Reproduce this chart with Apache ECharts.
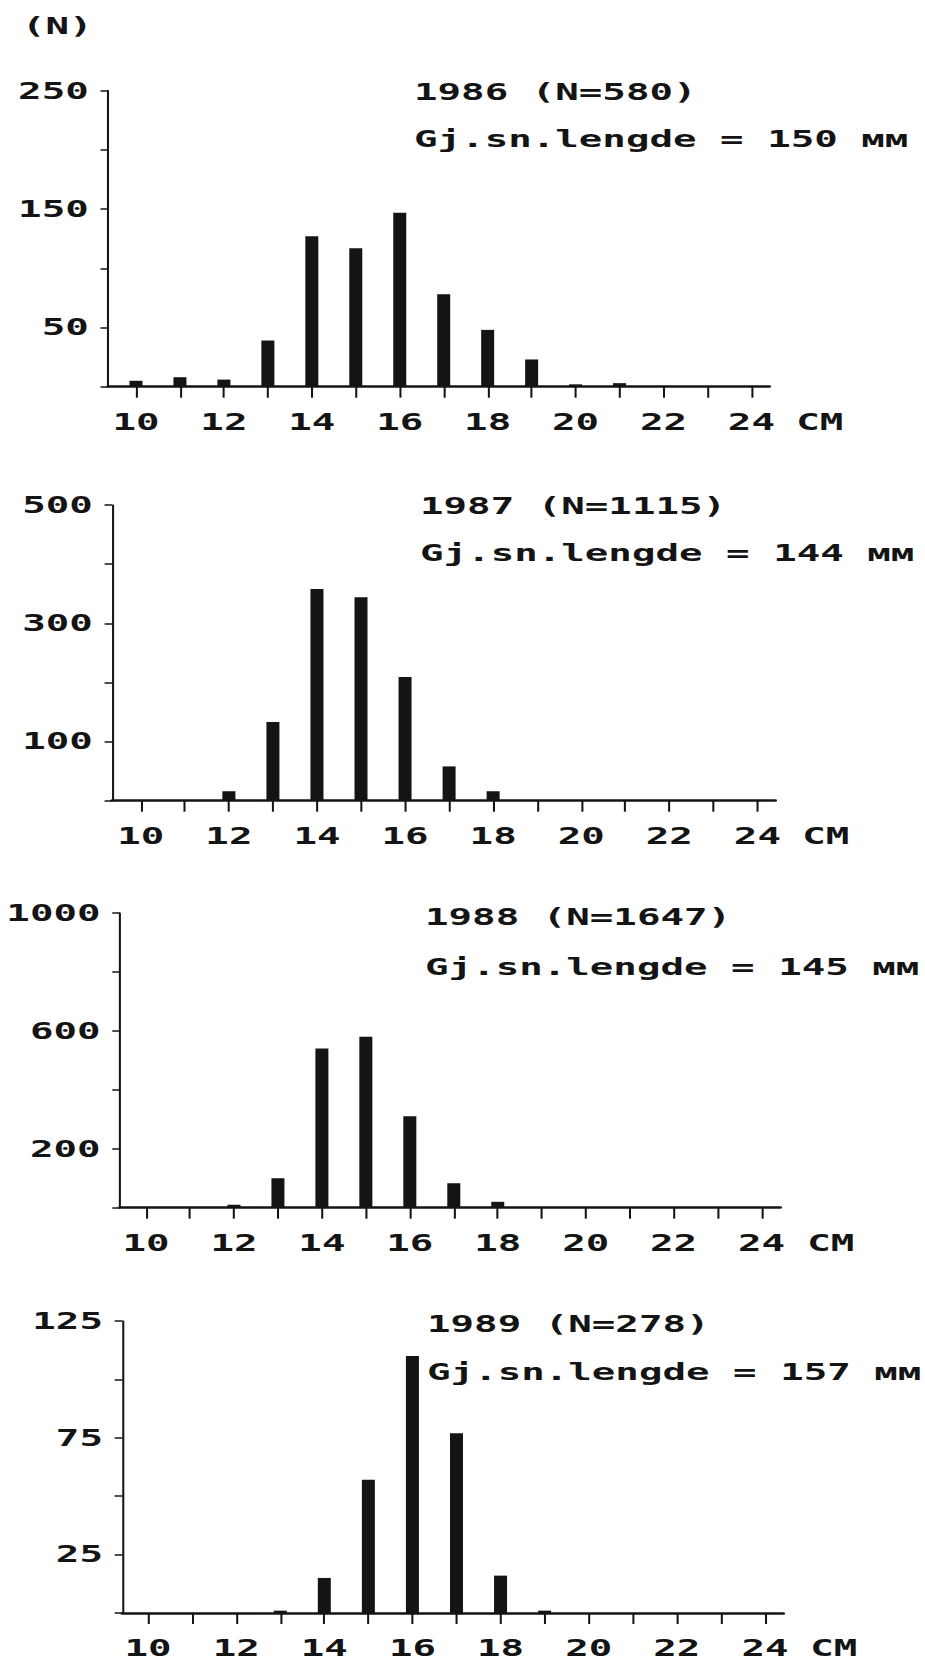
<!DOCTYPE html>
<html>
<head>
<meta charset="utf-8">
<script src="https://cdn.jsdelivr.net/npm/echarts@6/dist/echarts.min.js"></script>
<style>
html, body { margin: 0; padding: 0; background: #fff; overflow: hidden; }
#wrap { width: 925px; height: 1666px; overflow: hidden; position: relative; background: #fff; }
#chart { width: 544px; height: 1666px; transform: scaleX(1.7004); transform-origin: 0 0; }
</style>
</head>
<body>
<div id="wrap"><div id="chart"></div></div>
<script>
// ---------------- data ----------------
const lengthsCm = [10, 11, 12, 13, 14, 15, 16, 17, 18, 19, 20, 21, 22, 23, 24];
const xTickLabels = [10, 12, 14, 16, 18, 20, 22, 24];
const years = ['1986', '1987', '1988', '1989'];
const sampleSizes = [580, 1115, 1647, 278];
const meanLengthsMm = [150, 144, 145, 157];

const counts1986 = [5, 8, 6, 39, 127, 117, 147, 78, 48, 23, 2, 3, 0, 0, 0];
const counts1987 = [0, 0, 16, 133, 358, 344, 209, 58, 16, 0, 0, 0, 0, 0, 0];
const counts1988 = [0, 0, 10, 100, 540, 580, 310, 83, 20, 0, 0, 0, 0, 0, 0];
const counts1989 = [0, 0, 0, 1, 15, 57, 110, 77, 16, 1, 0, 0, 0, 0, 0];

const yMax1986 = 250, yMax1987 = 500, yMax1988 = 1000, yMax1989 = 125;
const yStep1986 = 50, yStep1987 = 100, yStep1988 = 200, yStep1989 = 25;
const yTickLabels1986 = [50, 150, 250];
const yTickLabels1987 = [100, 300, 500];
const yTickLabels1988 = [200, 600, 1000];
const yTickLabels1989 = [25, 75, 125];

const allCounts = [counts1986, counts1987, counts1988, counts1989];
const yMaxes = [yMax1986, yMax1987, yMax1988, yMax1989];
const ySteps = [yStep1986, yStep1987, yStep1988, yStep1989];
const yLabels = [yTickLabels1986, yTickLabels1987, yTickLabels1988, yTickLabels1989];

// ---------------- layout (page pixels) ----------------
const SX = 1.7004;           // horizontal stretch of the whole drawing
const layout = [
  { left: 108.3, right: 769, top: 90.7, bottom: 386.7, xmin: 9.37, xmax: 24.4,  tx: 414, ty1: 92.5, ty2: 139.5 },
  { left: 112.4, right: 775, top: 505,  bottom: 800.7, xmin: 9.355, xmax: 24.4, tx: 420, ty1: 506,  ty2: 553 },
  { left: 120.1, right: 780, top: 913,  bottom: 1207.7, xmin: 9.41, xmax: 24.42, tx: 425, ty1: 917,  ty2: 967 },
  { left: 122.5, right: 783, top: 1321, bottom: 1613, xmin: 9.42, xmax: 24.41, tx: 427, ty1: 1324, ty2: 1372 }
];

const FONT = 'DejaVu Sans Mono';
const INK = '#141414';
const txt = { fontFamily: FONT, fontWeight: 'bold', fontSize: 23, color: INK };

const grids = [], xAxes = [], yAxes = [], series = [], graphics = [];

layout.forEach((L, i) => {
  grids.push({
    left: L.left / SX, top: L.top,
    width: (L.right - L.left) / SX, height: L.bottom - L.top,
    containLabel: false
  });
  xAxes.push({
    gridIndex: i, type: 'value', min: L.xmin, max: L.xmax,
    axisLine: { show: true, onZero: false, lineStyle: { color: INK, width: 2.5 } },
    axisTick: { show: true, customValues: lengthsCm, length: 11, lineStyle: { color: INK, width: 1.2 } },
    axisLabel: Object.assign({ customValues: xTickLabels, margin: 24, formatter: v => String(v) }, txt),
    splitLine: { show: false },
    name: 'CM', nameLocation: 'end', nameGap: 16,
    nameTextStyle: Object.assign({ verticalAlign: 'top', padding: [24, 0, 0, 0] }, txt)
  });
  yAxes.push({
    gridIndex: i, type: 'value', min: 0, max: yMaxes[i], interval: ySteps[i],
    axisLine: { show: true, lineStyle: { color: INK, width: 1.2 } },
    axisTick: { show: true, length: 4.6, lineStyle: { color: INK, width: 1.5 } },
    axisLabel: Object.assign({ customValues: yLabels[i], margin: 11.5, formatter: v => String(v) }, txt),
    splitLine: { show: false }
  });
  series.push({
    type: 'bar', xAxisIndex: i, yAxisIndex: i,
    barWidth: 13 / SX,
    itemStyle: { color: INK },
    silent: true,
    data: lengthsCm.map((x, k) => [x, allCounts[i][k]])
  });
  graphics.push({
    type: 'text', x: L.tx / SX, y: L.ty1,
    style: { text: years[i] + ' (N=' + sampleSizes[i] + ')', font: 'bold 23px "' + FONT + '"', fill: INK, verticalAlign: 'middle', textVerticalAlign: 'middle' }
  });
  graphics.push({
    type: 'text', x: L.tx / SX, y: L.ty2,
    style: { text: 'Gj.sn.lengde = ' + meanLengthsMm[i] + ' мм', font: 'bold 23px "' + FONT + '"', fill: INK, verticalAlign: 'middle', textVerticalAlign: 'middle' }
  });
});

graphics.push({
  type: 'text', x: 22 / SX, y: 26,
  style: { text: '(N)', font: 'bold 23px "' + FONT + '"', fill: INK, verticalAlign: 'middle', textVerticalAlign: 'middle' }
});

const chart = echarts.init(document.getElementById('chart'), null, { renderer: 'svg', width: 544, height: 1666 });
chart.setOption({
  backgroundColor: '#ffffff',
  animation: false,
  grid: grids,
  xAxis: xAxes,
  yAxis: yAxes,
  series: series,
  graphic: graphics
});
</script>
</body>
</html>
